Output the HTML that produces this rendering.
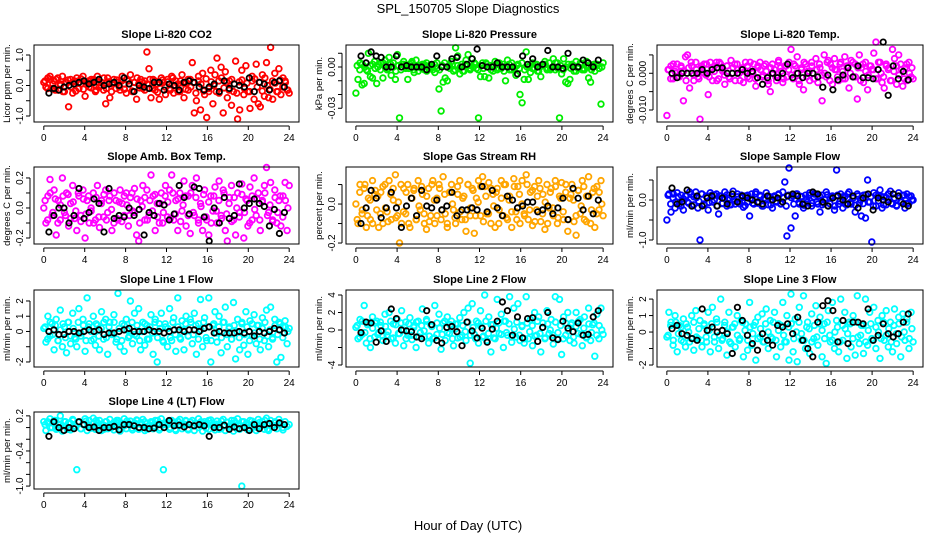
<!DOCTYPE html>
<html><head><meta charset="utf-8">
<style>
body{margin:0;background:#fff;width:936px;height:540px;overflow:hidden}
svg{display:block}
text{font-family:"Liberation Sans",sans-serif;fill:#000}
</style></head><body>
<svg id="chart" width="936" height="540" viewBox="0 0 936 540">
<text x="468" y="13" text-anchor="middle" font-size="13">SPL_150705  Slope Diagnostics</text>
<text x="468" y="530" text-anchor="middle" font-size="13">Hour of Day (UTC)</text>
<g id="panels"></g>
</svg>
<script>
// ---- data (colored scatter: 120 pts at 0.2 h; dense band: 96 pts at 0.25 h; black averages: 48 pts at ~0.5 h) ----
const hourTicks=[0,4,8,12,16,20,24];
const co2=[10,-5,25,30,-10,15,20,-15,5,30,-20,10,-70,20,-25,15,25,-10,5,30,-35,10,-5,20,15,-20,30,-5,10,-15,-60,25,-40,5,20,-10,10,-15,30,5,-25,15,35,-20,10,-45,5,20,-10,15,110,55,-40,20,-15,5,-45,25,10,-30,20,-10,30,-25,15,5,-20,35,-40,10,-15,20,75,-90,-50,30,-80,40,-30,-105,-20,50,-60,35,90,-25,60,-90,45,-40,15,-65,-20,80,-110,-80,50,-30,65,-20,-75,30,-45,70,-60,-70,35,-35,75,-40,125,-45,40,-20,55,-30,25,15,-15,-25];
const co2Band=[15,-10,20,5,-15,25,0,-20,10,18,-5,12,-18,8,22,-12,5,15,-8,20,-15,10,0,25,-10,12,-20,8,18,-5,15,-12,20,5,-18,10,25,-8,12,-15,5,20,-10,15,-22,8,18,-5,12,-15,25,0,-20,15,8,-12,20,-5,10,-25,15,5,-18,22,-10,12,0,-20,15,25,-8,10,-15,20,5,-25,12,18,-10,8,-20,15,22,-5,10,-18,25,0,-12,15,8,-20,18,-5,10,-15];
const co2Avg=[-25,-10,-15,-5,0,5,10,15,5,10,20,0,5,10,0,25,5,-20,0,-5,-10,10,10,-15,5,0,-15,10,15,10,-5,-15,-5,5,-20,15,-10,5,0,-5,25,-20,10,5,-15,10,15,-5];
const pres=[-19,-9,3,-13,-12,-2,10,-7,-8,4,-12,2,3,-8,5,-2,7,-6,3,-9,9,-37,2,4,-1,-9,2,4,-4,5,-3,1,2,-2,3,-1,1,-2,-4,3,-16,-32,-11,-8,-10,1,4,-3,14,8,-5,2,-3,5,9,-2,6,3,-1,-37,-7,3,-7,2,-8,1,-3,4,-2,3,-1,2,-10,5,-2,3,-1,-6,2,-20,-26,-9,11,-9,-4,3,-1,2,-3,-7,1,4,-2,3,-1,6,-2,3,-37,-5,6,-11,-12,-9,2,-3,4,-1,3,-2,-2,4,-8,-11,1,-3,2,-1,-27,3];
const presBand=[1,-2,2,0,-3,1,2,-1,0,-2,3,1,-1,2,0,-3,1,-2,2,0,-1,3,-2,1,0,-1,2,-3,1,0,2,-1,-2,1,3,0,-1,2,-2,1,0,-3,2,1,-1,0,2,-2,1,-1,3,0,-2,1,2,-1,0,-3,1,2,-2,0,1,-1,3,-2,0,1,-1,2,-3,0,1,2,-1,-2,0,3,-1,1,-2,0,2,-1,1,-3,0,2,-1,1,0,-2,2,1,-1,0];
const presAvg=[8,3,11,8,7,0,0,8,0,1,0,0,0,-2,2,8,0,0,6,7,0,2,6,13,1,0,0,3,0,0,0,-5,8,2,6,0,2,12,0,0,-1,10,0,0,5,3,0,5];
const temp=[-115,10,20,-15,5,25,-10,15,-75,45,50,-40,20,-20,30,-10,-125,15,25,-5,-58,30,-20,20,30,-15,25,5,-30,20,-10,35,15,-20,25,0,10,-25,30,20,-15,5,25,-35,15,30,-10,20,5,-30,-50,25,10,-20,35,15,-25,20,-10,30,65,-15,20,45,-30,10,-45,25,5,-20,30,-15,40,-25,15,-75,50,-10,35,25,-30,40,10,-20,30,-15,45,20,-40,35,-10,25,-70,50,15,-25,30,-45,20,10,55,85,-15,30,-25,-40,20,10,-20,65,40,-30,50,25,-35,15,-20,30,-10,-15];
const tempBand=[10,-15,25,0,-10,20,5,-20,15,30,-5,10,-15,20,0,25,-10,15,5,-20,30,10,-5,20,-15,0,25,10,-20,15,5,-10,30,0,-15,20,10,-5,25,-20,15,0,-10,30,5,-15,20,10,-5,25,0,-20,15,30,-10,5,20,-15,10,25,-5,0,30,-20,15,10,-10,25,5,-15,20,0,30,-10,15,-20,25,5,-5,20,10,-15,30,0,-10,25,15,-20,5,20,-5,10,-15,25,0,15];
const tempAvg=[0,-12,0,0,0,0,10,0,10,15,15,0,0,0,10,0,5,-12,-30,-12,0,-12,0,25,-12,0,-12,0,0,-10,-38,-5,-45,-18,-5,15,-10,20,-12,-12,-15,10,85,-60,20,-15,5,-18];
const amb=[0,-10,8,19,-5,12,-18,5,-8,20,-3,10,-12,3,15,-7,-15,8,-5,12,-20,5,-10,-2,10,-8,15,-13,5,-6,12,-3,8,-15,-10,5,-8,12,3,-5,10,-12,7,-2,13,-18,-22,5,15,-8,12,-5,22,8,-15,3,-10,10,-3,15,-6,12,22,-8,5,-15,10,-2,18,-12,8,-17,15,-5,20,-10,3,-15,12,-8,-18,8,-2,14,-10,18,-5,12,-15,-22,7,15,-8,-18,10,-3,16,-20,6,-12,14,-8,20,-5,10,-15,5,15,27,-3,17,-8,12,-10,5,-12,8,17,-15,15];
const ambBand=[5,-8,10,-3,6,-10,2,8,-5,9,-7,4,-2,10,-9,6,-4,8,0,-10,7,-6,3,9,-8,5,-1,10,-7,4,-9,8,2,-5,10,-3,6,-10,1,7,-8,5,-2,9,-6,3,-10,8,4,-7,10,-4,6,-9,2,8,-5,10,-3,7,-8,1,9,-6,4,-10,8,-2,5,-7,10,-4,3,-9,7,0,-6,9,-3,5,-10,8,-1,6,-8,4,10,-5,2,-9,7,-3,8,-6,5,0];
const ambAvg=[-16,-5,0,0,-10,-5,13,-7,-3,6,3,-16,13,-7,-5,-6,0,-5,-1,-18,-3,-5,3,2,-8,-4,15,7,-4,14,13,-6,-22,0,-10,7,-7,-5,16,0,3,6,3,1,-12,-1,-17,-3];
const rh=[0,-10,10,-5,8,-12,3,-8,12,5,-3,-12,6,-10,10,-4,12,-8,2,15,-6,-20,-10,8,-5,10,-12,3,8,-8,12,-3,5,-10,-13,8,-6,12,-10,3,10,-8,14,-5,-12,6,10,-3,-10,5,12,-8,4,-14,10,-6,8,-15,3,12,-6,14,9,-5,11,-10,5,-12,8,-3,12,-6,10,-8,4,-12,13,-4,9,-10,12,-5,15,-8,6,-11,9,-3,12,-9,5,-13,10,-2,8,-6,12,-10,4,11,-8,6,-14,3,10,-9,-16,7,-5,12,-8,4,14,-10,6,-12,9,-3,12,-6];
const rhBand=[-8,6,-3,10,-6,2,-10,7,4,-5,9,-2,-9,5,8,-7,1,10,-4,6,-10,3,7,-8,-1,9,-5,4,-9,10,2,-6,8,-3,5,-10,6,0,-7,9,-4,3,-8,10,-2,7,-6,1,9,-9,4,-5,8,-1,6,-10,3,10,-7,2,-4,9,-8,5,0,-6,10,-3,7,-9,4,8,-5,1,-10,6,-2,9,-7,3,-4,10,-8,5,2,-6,7,-1,9,-9,4,-3,8,-5,6,0];
const rhAvg=[-10,-2,7,3,-7,-2,6,-2,-12,-1,3,-6,7,-1,-2,2,-3,-1,6,-6,-3,-3,-2,-3,9,-4,7,-2,-6,4,2,-2,-1,1,1,-4,-3,-1,-5,-2,3,-8,8,3,-3,4,-5,2];
const samp=[-50,15,-30,5,-20,18,-10,12,-25,10,-5,20,-15,8,20,-20,-100,15,-10,10,-25,18,-5,12,15,-35,10,-8,20,-15,5,-12,22,-10,8,-5,12,-18,10,-5,-40,15,-10,20,-8,12,-15,5,18,-12,8,-20,10,-5,15,-10,20,45,-90,80,-70,10,-40,15,-10,8,-20,12,-5,18,-15,8,15,-10,-30,12,-8,20,-15,5,10,-25,75,-10,15,-20,8,-12,20,-10,5,-30,15,-8,-40,12,-45,50,-5,-105,18,-15,10,25,-20,8,-12,15,22,-10,5,-15,18,-5,12,-20,15,-8,10,0];
const sampBand=[12,-10,15,-5,8,-15,3,10,-8,14,-12,6,-3,15,-13,9,-6,12,0,-15,10,-9,5,13,-12,8,-2,15,-10,6,-14,12,3,-8,15,-5,9,-15,2,10,-12,8,-3,13,-9,5,-15,12,6,-10,15,-6,9,-13,3,12,-8,15,-5,10,-12,2,13,-9,6,-15,12,-3,8,-10,15,-6,5,-13,10,0,-9,13,-5,8,-15,12,-2,9,-12,6,15,-8,3,-13,10,-5,12,-9,8,0];
const sampAvg=[30,-10,-5,25,-15,10,-15,5,10,-15,5,-10,15,-5,10,5,0,-5,-10,10,0,5,-5,10,15,10,-10,-15,20,15,-5,-15,5,10,0,-10,10,-20,5,15,-25,5,0,-5,15,10,-10,-15];
const l1=[2,-7,10,-3,5,-12,8,-6,14,-10,3,-14,6,-8,12,-4,-10,15,-3,8,-13,22,5,-6,10,-9,4,-12,13,-5,8,-15,6,-2,11,-7,25,-10,5,-13,8,-4,20,-8,12,-3,15,-12,6,-9,4,-5,11,-15,8,-20,5,12,-7,3,-10,15,-6,9,-13,22,-4,7,-12,10,-3,8,-8,12,-15,5,21,-10,9,-6,22,-20,4,13,-7,10,-14,6,16,-10,3,-5,19,-18,8,-12,5,-9,13,-15,7,-3,11,-8,4,-12,9,-6,14,-10,16,-4,8,-20,6,-17,3,7,-8,2];
const l1Band=[3,-5,6,-2,4,-6,1,5,-4,6,-3,2,-5,6,-1,4,-6,3,0,-5,5,-3,2,6,-4,3,-1,6,-5,2,-6,4,1,-3,6,-2,4,-6,0,5,-5,3,-1,6,-4,2,-6,5,2,-4,6,-2,3,-5,1,5,-3,6,-2,4,-5,1,6,-4,3,-6,5,-1,3,-4,6,-2,2,-5,4,0,-4,6,-2,3,-6,5,-1,4,-5,2,6,-3,1,-5,4,-2,5,-4,3,0];
const l1Avg=[0,1,-2,-2,0,0,-1,0,1,0,1,-2,-1,-1,0,1,2,0,0,0,1,0,0,-1,0,1,1,0,1,1,0,2,3,-1,0,-1,-1,-1,0,-1,0,-3,0,-1,0,2,1,-1];
const l2=[3,-10,12,-5,28,-15,8,-20,15,-8,10,-3,5,-12,18,-6,20,-10,7,-15,12,-4,22,-18,9,-6,14,-11,5,-20,10,-3,24,-8,12,-15,6,-10,28,-5,18,-22,8,-12,15,-4,10,-18,7,-9,14,-6,20,-12,25,-38,30,-5,10,-15,22,-8,40,-12,15,-25,6,-10,35,-4,18,-20,10,-6,38,-14,25,-8,30,-12,5,-15,38,-10,12,-18,20,-6,15,-25,8,-10,22,-4,12,-16,38,-10,35,-28,15,-6,20,-12,8,-15,20,-4,12,-18,15,-8,25,-12,6,-30,18,-10,25,-5];
const l2Band=[5,-8,10,-3,6,-10,2,8,-5,9,-7,4,-2,10,-9,6,-4,8,0,-10,7,-6,3,9,-8,5,-1,10,-7,4,-9,8,2,-5,10,-3,6,-10,1,7,-8,5,-2,9,-6,3,-10,8,4,-7,10,-4,6,-9,2,8,-5,10,-3,7,-8,1,9,-6,4,-10,8,-2,5,-7,10,-4,3,-9,7,0,-6,9,-3,5,-10,8,-1,6,-8,4,10,-5,2,-9,7,-3,8,-6,5,0];
const l2Avg=[-3,9,8,-14,-1,-13,24,13,0,-1,-2,-8,-10,22,6,-12,-15,3,4,-2,-18,9,-1,-9,2,-14,1,10,32,22,-6,15,-9,13,14,-13,3,20,-9,-11,10,2,-2,8,-6,-5,15,22];
const l3=[-3,12,6,-8,10,-12,4,-5,8,-9,3,-6,10,-11,13,-4,7,-9,5,-3,12,-12,15,-6,8,-10,20,-4,6,-14,12,-7,3,-9,10,-5,7,-15,5,-11,18,-8,4,-17,9,-3,11,-6,14,-10,7,-4,12,-15,5,-9,18,-6,10,-17,23,-12,8,-18,15,-5,22,-10,6,-13,11,-4,16,-8,9,-15,5,-19,13,-6,18,-10,7,-12,20,-5,12,-16,6,-9,10,-14,22,-7,4,-13,20,-8,12,-4,15,-10,7,-16,10,-5,13,-9,6,-12,14,-7,9,-15,11,-5,8,-10,12,-6];
const l3Band=[-2,4,-5,6,-1,3,-6,5,0,-4,6,-3,2,-5,4,-6,1,5,-3,6,-2,-5,4,0,-6,3,5,-2,-4,6,1,-5,3,-1,6,-4,2,-6,5,0,-3,6,-5,1,4,-2,-6,3,5,-4,0,6,-1,-5,3,2,-6,4,-3,5,1,-4,6,-2,-5,0,3,-6,4,2,-1,5,-4,6,-3,-2,4,-6,1,5,-5,3,0,-4,6,-2,2,-6,4,-1,5,-3,0,6,-4,2];
const l3Avg=[2,4,-1,-2,-4,-5,14,1,3,0,1,-1,-13,15,7,-2,-7,-11,-1,-5,-8,4,3,5,-1,9,-5,-10,-15,6,16,19,13,-6,7,-7,6,6,5,14,-5,-2,5,-1,-3,-1,6,11];
const l4=[10,-5,8,15,0,12,-3,5,20,-6,10,2,8,-4,14,3,-72,10,-2,6,15,-5,12,0,16,-3,8,12,-5,4,10,-2,14,6,-4,9,12,-6,5,15,-2,8,11,-4,6,13,-3,9,14,-5,7,3,10,-2,12,6,-4,15,-72,8,5,-3,12,8,-5,10,14,-2,6,11,-4,9,12,-5,7,15,3,-6,10,8,-3,13,5,-4,11,6,-2,14,-5,9,3,12,-6,8,15,-3,-100,10,6,-4,12,3,8,-5,14,2,10,-3,16,-5,12,4,8,-2,14,6,-4,10,2,5];
const l4Band=[5,10,0,8,12,-2,6,3,10,-3,7,12,1,9,-2,5,11,4,-1,8,12,2,6,-3,10,4,0,9,12,-2,7,3,11,5,-1,8,12,0,6,10,-3,4,9,2,12,-1,7,5,10,0,8,-3,11,4,6,12,-2,9,3,7,0,10,5,-1,12,8,2,6,-3,11,4,9,0,7,12,-2,5,10,3,8,-1,11,6,0,9,4,12,-3,7,2,10,5,8,0];
const l4Avg=[-15,10,0,-5,0,-2,10,5,0,1,-5,0,0,2,-4,5,5,3,0,0,-2,-1,5,0,12,3,4,1,5,3,5,3,-15,0,0,4,-3,1,-2,0,-5,5,-2,5,7,0,8,5];

// ---- layout / styling ----
const cols=[[34,299],[346,613],[657,923]];
const rows=[45,167,290,412];
const H=77;
const panels=[
 {name:'co2',title:'Slope Li-820 CO2',ylab:'Licor ppm per min.',c:0,r:0,dom:[-1.197,1.328],sc:0.01,v:co2,b:co2Band,a:co2Avg,col:'#ff0000',ticks:[-1,-0.5,0,0.5,1],labs:{'-1':'-1.0','0':'0.0','1':'1.0'}},
 {name:'pressure',title:'Slope Li-820 Pressure',ylab:'kPa per min.',c:1,r:0,dom:[-0.04,0.016],sc:0.001,v:pres,b:presBand,a:presAvg,col:'#00ee00',ticks:[-0.03,-0.02,-0.01,0,0.01],labs:{'-0.03':'-0.03','0':'0.00'}},
 {name:'li820-temp',title:'Slope Li-820 Temp.',ylab:'degrees C per min.',c:2,r:0,dom:[-0.01327,0.0077],sc:0.0001,v:temp,b:tempBand,a:tempAvg,col:'#ff00ff',ticks:[-0.01,-0.005,0,0.005],labs:{'-0.01':'-0.010','0':'0.000'}},
 {name:'amb-box-temp',title:'Slope Amb. Box Temp.',ylab:'degrees C per min.',c:0,r:1,dom:[-0.24,0.273],sc:0.01,v:amb,b:ambBand,a:ambAvg,col:'#ff00ff',ticks:[-0.2,-0.1,0,0.1,0.2],labs:{'-0.2':'-0.2','0':'0.0','0.2':'0.2'}},
 {name:'gas-stream-rh',title:'Slope Gas Stream RH',ylab:'percent per min.',c:1,r:1,dom:[-0.205,0.19],sc:0.01,v:rh,b:rhBand,a:rhAvg,col:'#ffa500',ticks:[-0.2,-0.1,0,0.1],labs:{'-0.2':'-0.2','0':'0.0'}},
 {name:'sample-flow',title:'Slope Sample Flow',ylab:'ml/min per min.',c:2,r:1,dom:[-1.1,0.825],sc:0.01,v:samp,b:sampBand,a:sampAvg,col:'#0000ff',ticks:[-1,-0.5,0,0.5],labs:{'-1':'-1.0','0':'0.0'}},
 {name:'line1-flow',title:'Slope Line 1 Flow',ylab:'ml/min per min.',c:0,r:2,dom:[-2.33,2.72],sc:0.1,v:l1,b:l1Band,a:l1Avg,col:'#00ffff',ticks:[-2,-1,0,1,2],labs:{'-2':'-2','0':'0','1':'1','2':'2'}},
 {name:'line2-flow',title:'Slope Line 2 Flow',ylab:'ml/min per min.',c:1,r:2,dom:[-4.23,4.57],sc:0.1,v:l2,b:l2Band,a:l2Avg,col:'#00ffff',ticks:[-4,-2,0,2,4],labs:{'-4':'-4','0':'0','2':'2','4':'4'}},
 {name:'line3-flow',title:'Slope Line 3 Flow',ylab:'ml/min per min.',c:2,r:2,dom:[-2.12,2.55],sc:0.1,v:l3,b:l3Band,a:l3Avg,col:'#00ffff',ticks:[-2,-1,0,1,2],labs:{'-2':'-2','0':'0','1':'1','2':'2'}},
 {name:'line4-flow',title:'Slope Line 4 (LT) Flow',ylab:'ml/min per min.',c:0,r:3,dom:[-1.05,0.266],sc:0.01,v:l4,b:l4Band,a:l4Avg,col:'#00ffff',ticks:[-1,-0.8,-0.6,-0.4,-0.2,0,0.2],labs:{'-1':'-1.0','-0.4':'-0.4','0.2':'0.2'}}
];
const NS='http://www.w3.org/2000/svg';
function mk(tag,attrs,parent){const e=document.createElementNS(NS,tag);for(const k in attrs)e.setAttribute(k,attrs[k]);parent.appendChild(e);return e;}
const root=document.getElementById('panels');
panels.forEach(p=>{
 const x0=cols[p.c][0],x1=cols[p.c][1],y0=rows[p.r],y1=y0+H;
 const xs=h=>x0+(h+0.96)/25.92*(x1-x0);
 const ys=v=>y1-(v-p.dom[0])/(p.dom[1]-p.dom[0])*H;
 const g=mk('g',{},root);
 
 
 const t=mk('text',{x:(x0+x1)/2,y:y0-7,'text-anchor':'middle','font-size':'11','font-weight':'bold'},g);
 
 
 t.textContent=p.title;
 const yl=mk('text',{transform:`translate(${x0-24},${(y0+y1)/2}) rotate(-90)`,'text-anchor':'middle','font-size':'9.5'},g);
 
 
 yl.textContent=p.ylab;
 const cg=mk('g',{fill:'none',stroke:p.col,'stroke-width':'1.8'},g);
 
 
 p.b.forEach((v,i)=>{const h=0.125+i*0.25;const c=mk('circle',{cx:xs(h).toFixed(1),cy:ys(v*p.sc).toFixed(1),r:2.8},cg);
  
  });
 p.v.forEach((v,i)=>{const h=i*24/(p.v.length-1);const c=mk('circle',{cx:xs(h).toFixed(1),cy:ys(v*p.sc).toFixed(1),r:2.8},cg);
  
  });
 const bg=mk('g',{fill:'none',stroke:'#000','stroke-width':'1.8'},g);
 
 
 p.a.forEach((v,i)=>{const h=0.5+i*0.49;const c=mk('circle',{cx:xs(h).toFixed(1),cy:ys(v*p.sc).toFixed(1),r:2.7},bg);
  
  });
 const b=mk('rect',{x:x0,y:y0,width:x1-x0,height:H,fill:'none',stroke:'#000','stroke-width':'1'},g);
 
 
 const xa=mk('g',{},g);
 
 
 mk('line',{x1:xs(0),x2:xs(24),y1:y1+4,y2:y1+4,stroke:'#000'},xa);
 hourTicks.forEach(h=>{mk('line',{x1:xs(h),x2:xs(h),y1:y1+4,y2:y1+8,stroke:'#000'},xa);
  const tl=mk('text',{x:xs(h),y:y1+19,'text-anchor':'middle','font-size':'10'},xa);
  
  
  tl.textContent=h;});
 const ya=mk('g',{},g);
 
 
 const tk=p.ticks;
 mk('line',{x1:x0-4,x2:x0-4,y1:ys(tk[0]),y2:ys(tk[tk.length-1]),stroke:'#000'},ya);
 tk.forEach(v=>{mk('line',{x1:x0-8,x2:x0-4,y1:ys(v),y2:ys(v),stroke:'#000'},ya);
  const key=String(v);
  if(p.labs[key]!==undefined){const tl=mk('text',{transform:`translate(${x0-11},${ys(v)}) rotate(-90)`,'text-anchor':'middle','font-size':'10'},ya);
   
   
   tl.textContent=p.labs[key];}});
});
</script>
</body></html>
